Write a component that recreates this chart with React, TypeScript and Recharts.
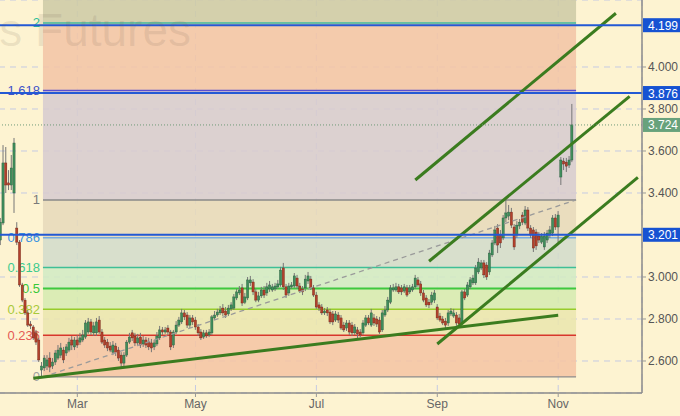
import {
  ComposedChart,
  Bar,
  XAxis,
  YAxis,
  CartesianGrid,
  ReferenceLine,
  ReferenceArea,
} from "recharts";

// ── Data ───────────────────────────────────────────────────────────────────

const SLOTS = 234; // trading-day slots across the plot (empty ones on the right)
const monthTicks = [28, 71, 115, 159, 203];
const monthNames = ["Mar", "May", "Jul", "Sep", "Nov"];
const priceTicks = [2.6, 2.8, 3.0, 3.4, 3.6, 3.8, 4.0];
const Y_MIN = 2.4476;
const Y_MAX = 4.319;

// daily candles [open, high, low, close], late Jan → 8 Nov
const candles: [number, number, number, number][] = [
  [3.176, 3.281, 3.152, 3.261], [3.257, 3.628, 3.247, 3.543], [3.543, 3.619, 3.400, 3.438], [3.448, 3.509, 3.414, 3.438],
  [3.438, 3.581, 3.414, 3.519], [3.400, 3.662, 3.305, 3.638], [3.233, 3.261, 3.152, 3.166], [3.166, 3.176, 2.953, 2.962],
  [2.962, 2.972, 2.880, 2.890], [2.890, 2.900, 2.819, 2.829], [2.829, 2.843, 2.762, 2.771], [2.776, 2.790, 2.752, 2.767],
  [2.762, 2.771, 2.700, 2.710], [2.734, 2.748, 2.676, 2.690], [2.700, 2.710, 2.595, 2.605], [2.557, 2.595, 2.528, 2.576],
  [2.567, 2.628, 2.552, 2.614], [2.576, 2.628, 2.557, 2.605], [2.614, 2.642, 2.547, 2.571], [2.576, 2.614, 2.562, 2.595],
  [2.595, 2.652, 2.581, 2.638], [2.614, 2.676, 2.605, 2.652], [2.628, 2.686, 2.614, 2.662], [2.652, 2.667, 2.590, 2.605],
  [2.638, 2.681, 2.624, 2.667], [2.652, 2.710, 2.642, 2.690], [2.700, 2.719, 2.652, 2.676], [2.667, 2.714, 2.652, 2.700],
  [2.700, 2.724, 2.662, 2.676], [2.690, 2.734, 2.676, 2.710], [2.700, 2.748, 2.690, 2.724], [2.714, 2.795, 2.705, 2.781],
  [2.738, 2.805, 2.729, 2.786], [2.786, 2.800, 2.724, 2.738], [2.734, 2.786, 2.719, 2.767], [2.734, 2.805, 2.719, 2.786],
  [2.795, 2.814, 2.729, 2.738], [2.738, 2.752, 2.681, 2.690], [2.700, 2.714, 2.662, 2.676], [2.690, 2.705, 2.647, 2.662],
  [2.671, 2.690, 2.642, 2.652], [2.642, 2.695, 2.628, 2.676], [2.671, 2.686, 2.624, 2.642], [2.652, 2.667, 2.600, 2.614],
  [2.628, 2.642, 2.567, 2.590], [2.590, 2.642, 2.576, 2.628], [2.628, 2.700, 2.619, 2.690], [2.690, 2.734, 2.681, 2.714],
  [2.734, 2.748, 2.695, 2.710], [2.719, 2.734, 2.671, 2.686], [2.686, 2.729, 2.671, 2.710], [2.714, 2.734, 2.662, 2.676],
  [2.681, 2.719, 2.667, 2.700], [2.700, 2.714, 2.662, 2.676], [2.690, 2.710, 2.652, 2.667], [2.686, 2.705, 2.642, 2.662],
  [2.667, 2.700, 2.652, 2.686], [2.681, 2.738, 2.671, 2.719], [2.710, 2.767, 2.700, 2.748], [2.748, 2.762, 2.724, 2.738],
  [2.738, 2.762, 2.729, 2.748], [2.757, 2.771, 2.724, 2.738], [2.738, 2.748, 2.652, 2.667], [2.676, 2.748, 2.662, 2.738],
  [2.738, 2.790, 2.729, 2.771], [2.771, 2.810, 2.762, 2.795], [2.786, 2.848, 2.776, 2.829], [2.829, 2.843, 2.795, 2.810],
  [2.819, 2.833, 2.757, 2.771], [2.771, 2.819, 2.757, 2.805], [2.805, 2.819, 2.771, 2.786], [2.795, 2.810, 2.748, 2.762],
  [2.762, 2.776, 2.719, 2.734], [2.738, 2.752, 2.700, 2.710], [2.714, 2.748, 2.705, 2.734], [2.734, 2.748, 2.710, 2.719],
  [2.724, 2.752, 2.714, 2.738], [2.734, 2.819, 2.724, 2.810], [2.805, 2.838, 2.795, 2.819], [2.819, 2.848, 2.810, 2.833],
  [2.829, 2.862, 2.819, 2.843], [2.852, 2.871, 2.814, 2.829], [2.838, 2.857, 2.805, 2.819], [2.824, 2.867, 2.814, 2.852],
  [2.848, 2.880, 2.838, 2.867], [2.852, 2.919, 2.843, 2.905], [2.900, 2.943, 2.890, 2.929], [2.924, 2.957, 2.914, 2.938],
  [2.948, 2.967, 2.862, 2.876], [2.880, 2.924, 2.871, 2.905], [2.900, 3.000, 2.890, 2.986], [2.972, 3.005, 2.957, 2.986],
  [2.976, 2.990, 2.914, 2.929], [2.929, 2.943, 2.880, 2.890], [2.890, 2.929, 2.880, 2.910], [2.910, 2.953, 2.900, 2.938],
  [2.938, 2.957, 2.900, 2.914], [2.924, 2.972, 2.910, 2.953], [2.943, 2.981, 2.929, 2.962], [2.938, 2.967, 2.929, 2.953],
  [2.943, 2.972, 2.933, 2.957], [2.953, 2.986, 2.943, 2.967], [2.962, 3.048, 2.953, 3.033], [3.043, 3.067, 2.938, 2.953],
  [2.953, 2.967, 2.900, 2.914], [2.924, 2.972, 2.910, 2.957], [2.953, 2.976, 2.943, 2.962], [2.957, 3.019, 2.948, 3.005],
  [2.995, 3.010, 2.943, 2.957], [2.957, 2.972, 2.924, 2.933], [2.943, 2.957, 2.914, 2.929], [2.948, 3.010, 2.933, 2.990],
  [2.981, 3.024, 2.967, 3.005], [2.990, 3.005, 2.938, 2.948], [2.948, 2.962, 2.905, 2.914], [2.914, 2.929, 2.848, 2.857],
  [2.867, 2.880, 2.838, 2.852], [2.857, 2.871, 2.819, 2.829], [2.829, 2.852, 2.819, 2.838], [2.843, 2.857, 2.814, 2.829],
  [2.833, 2.848, 2.776, 2.786], [2.824, 2.838, 2.771, 2.786], [2.795, 2.838, 2.786, 2.824], [2.819, 2.833, 2.781, 2.795],
  [2.805, 2.819, 2.748, 2.757], [2.771, 2.786, 2.738, 2.748], [2.757, 2.795, 2.743, 2.781], [2.781, 2.795, 2.724, 2.738],
  [2.771, 2.786, 2.719, 2.734], [2.734, 2.776, 2.724, 2.762], [2.748, 2.762, 2.705, 2.729], [2.738, 2.752, 2.714, 2.724],
  [2.734, 2.795, 2.724, 2.781], [2.771, 2.819, 2.762, 2.805], [2.805, 2.819, 2.771, 2.781], [2.771, 2.848, 2.762, 2.829],
  [2.805, 2.824, 2.767, 2.781], [2.800, 2.814, 2.762, 2.776], [2.795, 2.810, 2.729, 2.738], [2.748, 2.843, 2.738, 2.829],
  [2.819, 2.862, 2.810, 2.843], [2.843, 2.905, 2.833, 2.890], [2.880, 2.962, 2.871, 2.948], [2.938, 2.967, 2.929, 2.948],
  [2.938, 2.972, 2.929, 2.953], [2.953, 2.967, 2.919, 2.929], [2.948, 2.962, 2.914, 2.929], [2.933, 2.967, 2.924, 2.953],
  [2.948, 2.962, 2.905, 2.914], [2.929, 2.962, 2.919, 2.948], [2.938, 2.967, 2.929, 2.953], [2.953, 3.010, 2.943, 2.995],
  [2.986, 3.000, 2.953, 2.962], [2.967, 2.981, 2.910, 2.924], [2.924, 2.938, 2.880, 2.890], [2.900, 2.914, 2.857, 2.867],
  [2.880, 2.895, 2.852, 2.867], [2.880, 2.929, 2.867, 2.914], [2.890, 2.938, 2.876, 2.924], [2.857, 2.871, 2.795, 2.805],
  [2.814, 2.829, 2.786, 2.795], [2.800, 2.814, 2.771, 2.781], [2.790, 2.805, 2.757, 2.771], [2.781, 2.843, 2.767, 2.829],
  [2.824, 2.852, 2.814, 2.838], [2.814, 2.848, 2.805, 2.829], [2.819, 2.833, 2.767, 2.781], [2.805, 2.824, 2.762, 2.776],
  [2.781, 2.938, 2.771, 2.929], [2.929, 2.943, 2.890, 2.900], [2.914, 2.976, 2.905, 2.962], [2.953, 3.000, 2.943, 2.986],
  [2.972, 3.010, 2.962, 2.995], [2.972, 3.057, 2.962, 3.043], [3.024, 3.090, 3.014, 3.071], [3.043, 3.081, 3.033, 3.067],
  [3.067, 3.081, 2.995, 3.010], [3.057, 3.071, 2.986, 3.000], [3.024, 3.129, 3.010, 3.114], [3.105, 3.176, 3.095, 3.162],
  [3.162, 3.243, 3.152, 3.224], [3.233, 3.252, 3.114, 3.152], [3.200, 3.224, 3.138, 3.162], [3.186, 3.295, 3.176, 3.281],
  [3.281, 3.367, 3.261, 3.305], [3.290, 3.343, 3.271, 3.309], [3.309, 3.329, 3.233, 3.247], [3.238, 3.252, 3.129, 3.143],
  [3.200, 3.266, 3.186, 3.247], [3.243, 3.276, 3.228, 3.261], [3.295, 3.309, 3.247, 3.261], [3.257, 3.338, 3.247, 3.319],
  [3.319, 3.333, 3.219, 3.233], [3.233, 3.247, 3.186, 3.200], [3.224, 3.238, 3.119, 3.138], [3.214, 3.228, 3.129, 3.148],
  [3.195, 3.214, 3.162, 3.176], [3.166, 3.209, 3.157, 3.195], [3.143, 3.214, 3.129, 3.195], [3.176, 3.224, 3.162, 3.209],
  [3.200, 3.243, 3.186, 3.224], [3.209, 3.295, 3.195, 3.281], [3.281, 3.300, 3.224, 3.238], [3.238, 3.314, 3.166, 3.295],
  [3.476, 3.571, 3.438, 3.557], [3.552, 3.567, 3.509, 3.538], [3.547, 3.567, 3.500, 3.528], [3.533, 3.576, 3.519, 3.557],
  [3.557, 3.824, 3.547, 3.724],
];

// fibonacci grid: anchored on the Feb low and drawn across the slot range below
const fibLow = 2.524;
const fibHigh = 3.367;
const fibFrom = 16;
const fibTo = 209;
const fibLevels = [0, 0.236, 0.382, 0.5, 0.618, 0.786, 1, 1.618, 2];

// blue horizontal levels + last price
const keyLevels = [4.199, 3.876, 3.201];
const lastPrice = 3.724;

// green trend / channel lines [slot, price]
const trendLines = [
  { from: [12, 2.518], to: [203, 2.818] },
  { from: [159, 2.681], to: [232, 3.474] },
  { from: [156, 3.075], to: [229, 3.86] },
  { from: [151, 3.462], to: [224, 4.256] },
];

// ── Styles ─────────────────────────────────────────────────────────────────

const FONT = "'Liberation Sans', Arial, sans-serif";
const BG = "#fdf3d1";

// one entry per fib level: line at the level, zone up to the next level
const fibStyle = [
  { line: "#8c8c8c", text: "#a0a0a0", fill: "#f5c5a4", w: 1.2 },
  { line: "#d8372c", text: "#e45a55", fill: "#ebe6ae", w: 1.5 },
  { line: "#97cc2a", text: "#a8c93a", fill: "#d6eab0", w: 1.5 },
  { line: "#3fc83f", text: "#38c838", fill: "#d1eac4", w: 2 },
  { line: "#3fbf96", text: "#3ccb8e", fill: "#d3dccb", w: 1.5 },
  { line: "#78ade0", text: "#3d93e0", fill: "#e7d9bb", w: 1.5 },
  { line: "#888888", text: "#7a7a7a", fill: "#d7cccf", w: 1.5 },
  { line: "#5a4fcf", text: "#3f52c8", fill: "#f3c5a6", w: 1.5 },
  { line: "#3fb89c", text: "#2fbf99", fill: "#cecba6", w: 1.5 },
];

// ── Renderers ──────────────────────────────────────────────────────────────

const Candle = (props: any) => {
  const { x, y, width, height, payload } = props;
  if (payload?.o == null || !height) return null;
  const { o, h, l, c } = payload;
  const ppu = height / (h - l);
  const yO = y + (h - o) * ppu;
  const yC = y + (h - c) * ppu;
  const up = c >= o;
  const cx = x + width / 2;
  const top = Math.min(yO, yC);
  const bh = Math.max(1, Math.abs(yC - yO));
  return (
    <g>
      <line x1={cx} x2={cx} y1={y} y2={y + height} stroke="#767676" strokeWidth={1} />
      <rect x={cx - 1.1} y={top} width={2.2} height={bh}
        fill={up ? "#3f8e5c" : "#b3412c"} stroke={up ? "#26573a" : "#6d2215"} strokeWidth={0.4} />
    </g>
  );
};

const fibZone = (idx: number) => (props: any) => {
  const { x, y, width, height } = props;
  const st = fibStyle[idx];
  const yLine = y + height;
  return (
    <g>
      <rect x={x} y={y} width={width} height={height} fill={st.fill} fillOpacity={0.88} />
      <line x1={x} x2={x + width} y1={yLine} y2={yLine} stroke={st.line} strokeWidth={st.w} />
      <text x={x - 3} y={yLine + 4.5} textAnchor="end" fontSize={13} fill={st.text} fontFamily={FONT}>
        {String(fibLevels[idx])}
      </text>
    </g>
  );
};

const PriceTag = ({ viewBox, text, bg }: any) => {
  if (!viewBox) return null;
  const x = viewBox.x + viewBox.width + 1;
  const y = viewBox.y;
  return (
    <g>
      <rect x={x} y={y - 7} width={38} height={14} fill={bg} />
      <text x={x + 5} y={y + 4.5} fill="#fff" fontSize={12} fontFamily={FONT}>{text}</text>
    </g>
  );
};

// ── Component ──────────────────────────────────────────────────────────────

export default function App() {
  const rows = Array.from({ length: SLOTS }, (_, i) => {
    const k = candles[i];
    return k ? { i, o: k[0], h: k[1], l: k[2], c: k[3], range: [k[2], k[1]] } : { i };
  });

  const fibPrice = (lv: number) => fibLow + (fibHigh - fibLow) * lv;

  return (
    <div style={{ position: "absolute", left: 0, top: 0, width: 680, height: 416, background: BG, overflow: "hidden", fontFamily: FONT }}>
      <div style={{ position: "absolute", left: -1, top: 0 }}>
        <ComposedChart width={681} height={416} data={rows} margin={{ top: 0, right: 0, bottom: 0, left: 0 }}>
          <CartesianGrid stroke="#c5cae2" strokeDasharray="6 5" />

          <XAxis dataKey="i" type="category" ticks={monthTicks} interval={0} height={23}
            tickFormatter={(v) => monthNames[monthTicks.indexOf(v)] ?? ""}
            tick={{ fontSize: 12, fill: "#666", fontFamily: FONT }} tickSize={4}
            tickLine={{ stroke: "#999" }} axisLine={{ stroke: "#8a8a8a", strokeWidth: 1.5 }} />
          <YAxis orientation="right" type="number" width={38} domain={[Y_MIN, Y_MAX]} allowDataOverflow
            ticks={priceTicks} tickFormatter={(v) => Number(v).toFixed(3)}
            tick={{ fontSize: 12, fill: "#555", fontFamily: FONT }} tickSize={4}
            tickLine={{ stroke: "#999" }} axisLine={{ stroke: "#8a8a8a", strokeWidth: 1.5 }} />

          {/* Fibonacci zones + level lines */}
          {fibLevels.map((lv, idx) => (
            <ReferenceArea key={`fz-${lv}`} x1={fibFrom} x2={fibTo}
              y1={fibPrice(lv)} y2={idx < fibLevels.length - 1 ? fibPrice(fibLevels[idx + 1]) : Y_MAX}
              shape={fibZone(idx)} ifOverflow="visible" />
          ))}

          {/* Candles */}
          <Bar dataKey="range" shape={(p: any) => <Candle {...p} />} isAnimationActive={false} />

          {/* fib diagonal */}
          <ReferenceLine segment={[{ x: fibFrom, y: fibLow }, { x: fibTo + 1, y: fibHigh }]} position="start"
            stroke="#9a9a9a" strokeWidth={1.3} strokeDasharray="5 4" ifOverflow="visible" />

          {/* trend lines */}
          {trendLines.map((t, idx) => (
            <ReferenceLine key={`tl-${idx}`} segment={[{ x: t.from[0], y: t.from[1] }, { x: t.to[0], y: t.to[1] }]}
              stroke="#3b7c1f" strokeWidth={3} ifOverflow="visible" />
          ))}

          {/* last price */}
          <ReferenceLine y={lastPrice} stroke="#6f9a78" strokeWidth={1} strokeDasharray="1 2"
            label={(p: any) => <PriceTag viewBox={p.viewBox} text={lastPrice.toFixed(3)} bg="#68a27c" />} />

          {/* key levels */}
          {keyLevels.map((lv) => (
            <ReferenceLine key={`kl-${lv}`} y={lv} stroke="#2359d4" strokeWidth={2}
              label={(p: any) => <PriceTag viewBox={p.viewBox} text={lv.toFixed(3)} bg="#1652d2" />} />
          ))}
        </ComposedChart>
      </div>

      {/* watermark */}
      <svg width={680} height={416} style={{ position: "absolute", left: 0, top: 0, pointerEvents: "none" }}>
        <text x={191} y={46} textAnchor="end" fontSize={46} fill="#6e5e50" fillOpacity={0.13} fontFamily={FONT}>
          Natural Gas Futures
        </text>
      </svg>
    </div>
  );
}
